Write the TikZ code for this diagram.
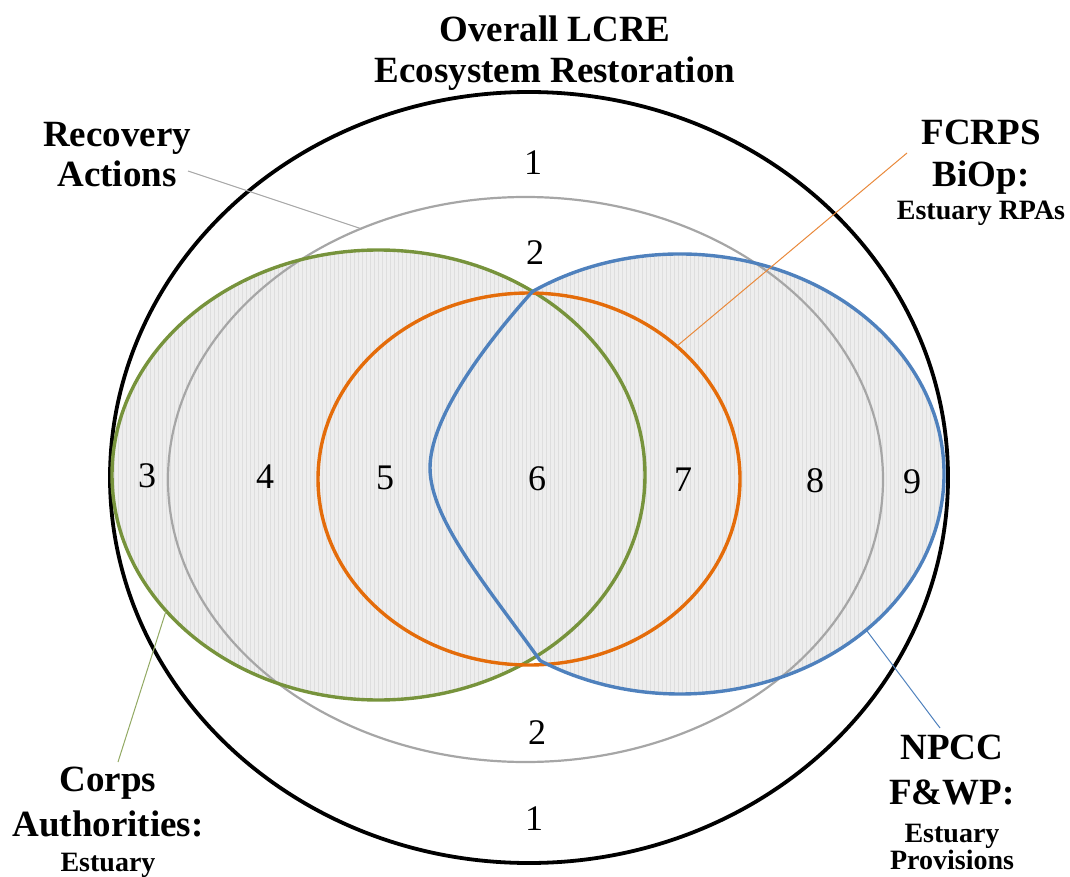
\documentclass[tikz,border=0pt]{standalone}
\usepackage{fontspec}
\setmainfont{Liberation Serif}

\definecolor{lcregreen}{HTML}{77933C}
\definecolor{lcreorange}{HTML}{E46C0A}
\definecolor{lcreblue}{HTML}{4F81BD}
\definecolor{lcregray}{HTML}{A6A6A6}
\definecolor{lcrefill}{HTML}{EEEEEE}
\definecolor{lcrestripe}{HTML}{DEDEDE}

\begin{document}
\begin{tikzpicture}[x=0.5pt, y=-0.5pt]

\def\width{1070}
\def\height{877}

\tikzset{
	bigtext/.style={font=\bfseries\fontsize{18.5}{21}\selectfont, align=center, inner sep=0pt, anchor=north},
	areanum/.style={font=\fontsize{18}{18}\selectfont, inner sep=0pt},
	leader/.style={line width=0.5pt},
}

\path [use as bounding box] (0,0) rectangle (\width,\height);

% BLUE SHAPE (right arc + left bulge)
\path (680,474) ++(-124:264 and 220) coordinate (bluetop);
\def\blueshape{(bluetop)
	arc [start angle=-124, end angle=122, x radius=264, y radius=220]
	.. controls (490,590) and (430,520) .. (430,468)
	.. controls (430,420) and (480,350) .. (bluetop) -- cycle}
\def\greenshape{(378.5,475) ellipse [x radius=266.5, y radius=225]}

% FILL (light grey, thin vertical stripes)
\fill [lcrefill] \greenshape;
\fill [lcrefill] \blueshape;
\begin{scope}
	\clip \greenshape;
	\foreach \x in {110,114,...,646}
		\draw [lcrestripe, line width=0.4pt] (\x,250) -- (\x,700);
\end{scope}
\begin{scope}
	\clip \blueshape;
	\foreach \x in {430,434,...,946}
		\draw [lcrestripe, line width=0.4pt] (\x,250) -- (\x,700);
\end{scope}

% ELLIPSES
\draw [line width=1.9pt] (529,477.5) ellipse [x radius=419, y radius=385.5];
\draw [line width=1.1pt, lcregray] (525.5,479.5) ellipse [x radius=357.5, y radius=282.5];
\draw [line width=1.7pt, lcregreen] \greenshape;
\draw [line width=1.7pt, lcreorange] (529,479) ellipse [x radius=211, y radius=186];
\draw [line width=1.7pt, lcreblue] \blueshape;

% AREA NUMBERS
\node [areanum, anchor=north] (n1top) at (533,150) {1};
\node [areanum, anchor=north] (n2top) at (535,240) {2};
\node [areanum] (n3) at (147,476) {3};
\node [areanum] (n4) at (265,477) {4};
\node [areanum] (n5) at (385,478) {5};
\node [areanum] (n6) at (537,479) {6};
\node [areanum] (n7) at (683,480) {7};
\node [areanum] (n8) at (815,481) {8};
\node [areanum] (n9) at (912,482) {9};
\node [areanum, anchor=north] (n2bot) at (537,720) {2};
\node [areanum, anchor=north] (n1bot) at (534,806) {1};

% LABELS
\node [bigtext] (overall) at (555,15) {Overall LCRE\\[-0.5pt]Ecosystem Restoration};
\node [bigtext] (recovery) at (117,122) {Recovery\\[-1pt]Actions};
\node [bigtext] (fcrps) at (981,120)
	{FCRPS\\BiOp:\\[-4.5pt]{\fontsize{14}{16}\selectfont Estuary RPAs}};
\node [bigtext] (corps) at (108,767)
	{Corps\\[1.5pt]Authorities:\\[-3.5pt]{\fontsize{14}{16}\selectfont Estuary}};
\node [bigtext] (npcc) at (952,735)
	{NPCC\\[1.5pt]F\&WP:\\[-2pt]{\fontsize{14}{16}\selectfont Estuary}\\[-7.5pt]{\fontsize{14}{16}\selectfont Provisions}};

% LEADERS
\coordinate (recfoot) at (188,171);
\coordinate (recgray) at (362,229);
\coordinate (fcrpsfoot) at (907,153);
\coordinate (fcrpsorange) at (677,346);
\coordinate (corpsfoot) at (118,762);
\coordinate (corpsgreen) at (166,611);
\coordinate (npccfoot) at (940,728);
\coordinate (npccblue) at (867,631);

\draw [leader, lcregray] (recfoot) -- (recgray);
\draw [leader, lcreorange!80] (fcrpsfoot) -- (fcrpsorange);
\draw [leader, lcregreen!80] (corpsfoot) -- (corpsgreen);
\draw [leader, lcreblue] (npccfoot) -- (npccblue);

\end{tikzpicture}
\end{document}
